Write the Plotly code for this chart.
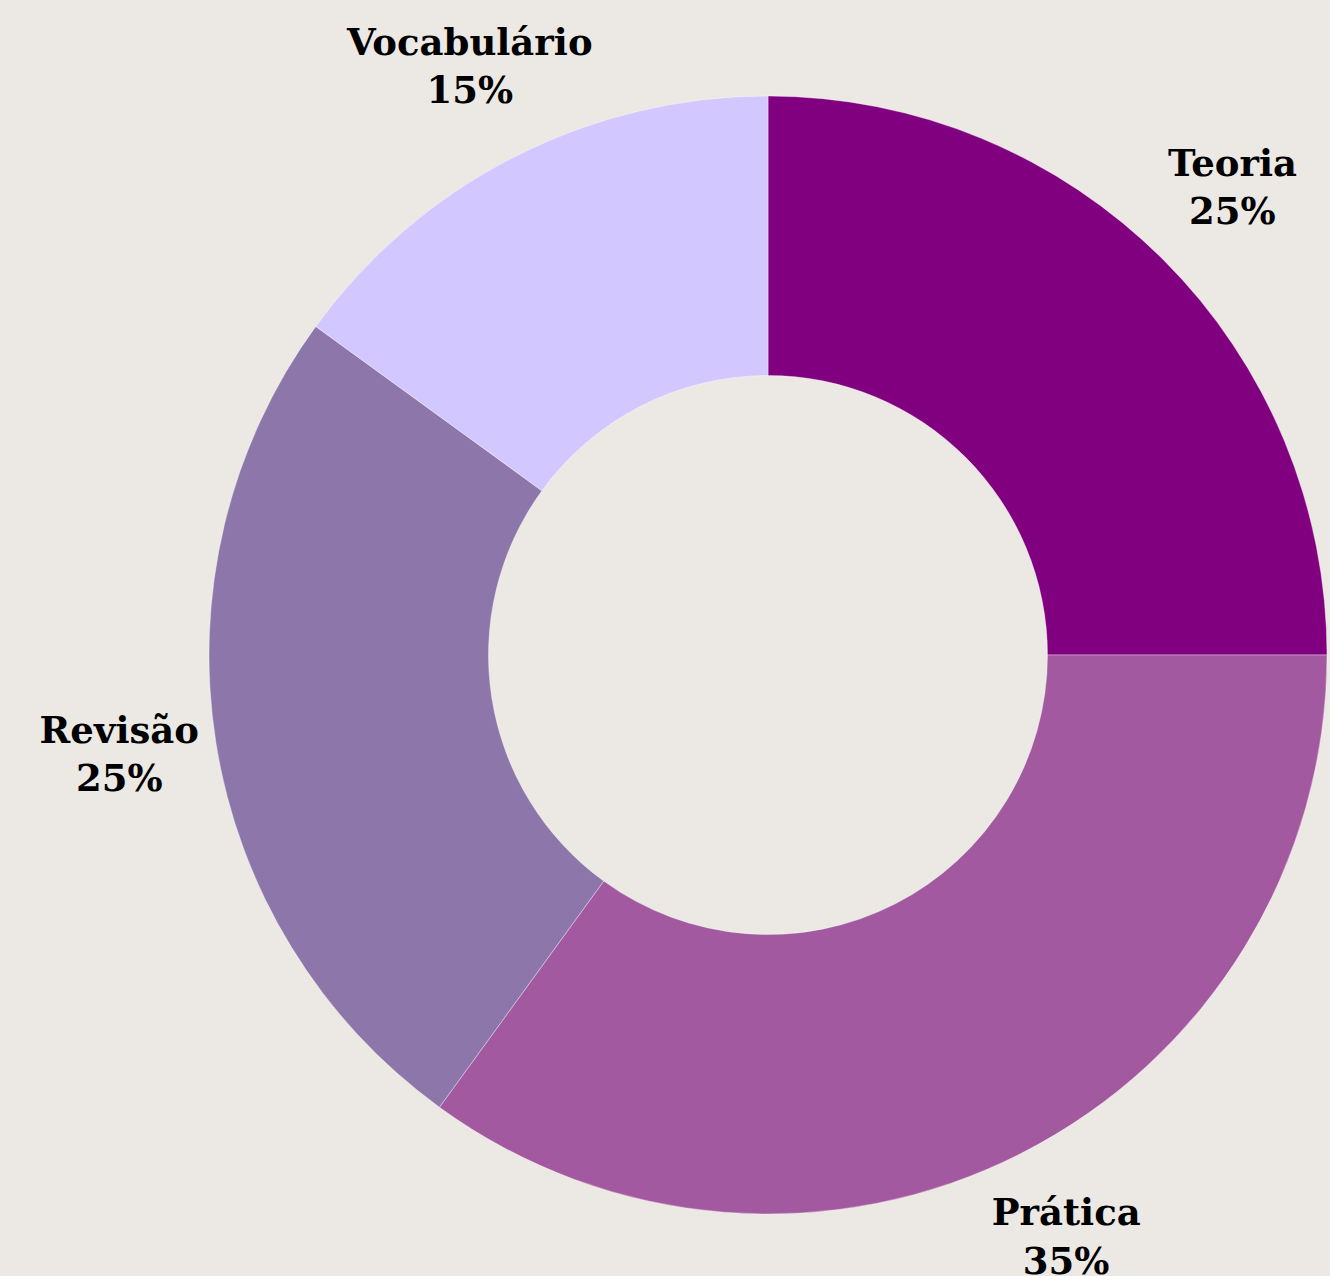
import math
import plotly.graph_objects as go

labels = ["Teoria", "Prática", "Revisão", "Vocabulário"]
values = [25, 35, 25, 15]
colors = ["#800080", "#A259A0", "#8D77AA", "#D3C7FF"]

W, H = 1330, 1276
cx, cy, r = 768, 655, 559
LABEL_R = 1.175  # label distance, in units of the pie radius

total = sum(values)
lx, ly, ltxt = [], [], []
cum = 0
for lab, v in zip(labels, values):
    theta = 2 * math.pi * (cum + v / 2) / total
    cum += v
    lx.append(LABEL_R * math.sin(theta))
    ly.append(LABEL_R * math.cos(theta))
    ltxt.append(f"<b>{lab}</b><br><b>{round(100 * v / total)}%</b>")

fig = go.Figure()
fig.add_trace(go.Pie(
    labels=labels,
    values=values,
    hole=0.5,
    sort=False,
    direction="clockwise",
    rotation=0,
    marker=dict(colors=colors, line=dict(color="rgba(255,255,255,0.6)", width=0.6)),
    textinfo="none",
    domain=dict(x=[(cx - r) / W, (cx + r) / W], y=[(H - cy - r) / H, (H - cy + r) / H]),
    showlegend=False,
))
fig.add_trace(go.Scatter(
    x=lx, y=ly, text=ltxt, mode="text",
    textposition="middle center",
    textfont=dict(family="DejaVu Serif, serif", size=37, color="#000000"),
    hoverinfo="skip", showlegend=False,
))

fig.update_layout(
    width=W, height=H,
    margin=dict(l=0, r=0, t=0, b=0),
    paper_bgcolor="#ECE9E5",
    plot_bgcolor="rgba(0,0,0,0)",
    showlegend=False,
    xaxis=dict(range=[(0 - cx) / r, (W - cx) / r], visible=False, fixedrange=True),
    yaxis=dict(range=[(cy - H) / r, cy / r], visible=False, fixedrange=True),
)

fig.write_html("out.html", config={"displayModeBar": False},
               post_script="document.body.style.margin='0';")
